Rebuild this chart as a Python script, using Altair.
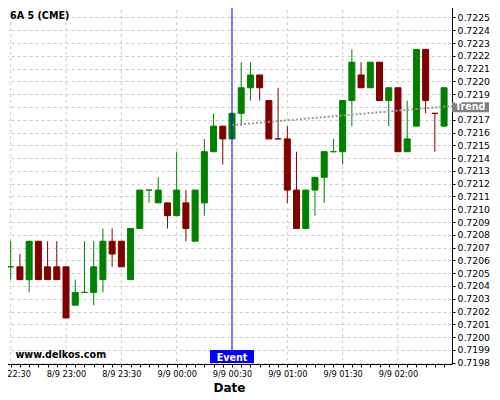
import altair as alt
import pandas as pd

# minutes after 8/9 22:30, one candle every 5 minutes
minutes = [0, 5, 10, 15, 20, 25, 30, 35, 40, 45, 50, 55, 60, 65, 70, 75, 80, 85, 90, 95,
           100, 105, 110, 115, 120, 125, 130, 135, 140, 145, 150, 155, 160, 165, 170, 175,
           180, 185, 190, 195, 200, 205, 210, 215, 220, 225, 230, 235]
opens = [0.72055, 0.72055, 0.72045, 0.72075, 0.72055, 0.72055, 0.72055, 0.72025, 0.72035, 0.72035,
         0.72045, 0.72075, 0.72075, 0.72045, 0.72085, 0.72115, 0.72105, 0.72105, 0.72095, 0.72105,
         0.72075, 0.72105, 0.72145, 0.72165, 0.72155, 0.72175, 0.72195, 0.72205, 0.72185, 0.72155,
         0.72155, 0.72115, 0.72085, 0.72115, 0.72125, 0.72145, 0.72145, 0.72185, 0.72205, 0.72195,
         0.72215, 0.72185, 0.72195, 0.72145, 0.72165, 0.72225, 0.72175, 0.72165]
highs = [0.72075, 0.72065, 0.72075, 0.72075, 0.72075, 0.72075, 0.72055, 0.72045, 0.72075, 0.72075,
         0.72085, 0.72085, 0.72075, 0.72085, 0.72115, 0.72115, 0.72125, 0.72105, 0.72145, 0.72115,
         0.72115, 0.72155, 0.72175, 0.72165, 0.72175, 0.72215, 0.72215, 0.72205, 0.72185, 0.72195,
         0.72165, 0.72145, 0.72115, 0.72125, 0.72145, 0.72155, 0.72185, 0.72225, 0.72215, 0.72215,
         0.72215, 0.72195, 0.72195, 0.72185, 0.72225, 0.72225, 0.72175, 0.72195]
lows = [0.72045, 0.72045, 0.72035, 0.72045, 0.72045, 0.72045, 0.72015, 0.72025, 0.72035, 0.72025,
        0.72035, 0.72055, 0.72055, 0.72045, 0.72085, 0.72105, 0.72105, 0.72085, 0.72095, 0.72075,
        0.72075, 0.72095, 0.72145, 0.72135, 0.72155, 0.72165, 0.72185, 0.72185, 0.72155, 0.72155,
        0.72105, 0.72085, 0.72085, 0.72095, 0.72105, 0.72145, 0.72135, 0.72165, 0.72195, 0.72195,
        0.72185, 0.72165, 0.72145, 0.72145, 0.72165, 0.72175, 0.72145, 0.72165]
closes = [0.72055, 0.72045, 0.72075, 0.72045, 0.72045, 0.72045, 0.72015, 0.72035, 0.72035, 0.72055,
          0.72075, 0.72065, 0.72055, 0.72085, 0.72115, 0.72115, 0.72115, 0.72095, 0.72115, 0.72085,
          0.72115, 0.72145, 0.72165, 0.72155, 0.72175, 0.72195, 0.72205, 0.72195, 0.72155, 0.72155,
          0.72115, 0.72085, 0.72115, 0.72125, 0.72145, 0.72145, 0.72185, 0.72215, 0.72195, 0.72215,
          0.72185, 0.72195, 0.72145, 0.72155, 0.72225, 0.72185, 0.72175, 0.72195]
# colour of the doji candles (open == close)
doji_up = {0: True, 8: True, 15: True, 29: False, 35: True, 46: False}

tick_minutes = [0, 30, 60, 90, 120, 150, 180, 210]
tick_labels = ["8/9 22:30", "8/9 23:00", "8/9 23:30", "9/9 00:00",
               "9/9 00:30", "9/9 01:00", "9/9 01:30", "9/9 02:00"]
price_ticks = [0.7198, 0.7199, 0.7200, 0.7201, 0.7202, 0.7203, 0.7204, 0.7205, 0.7206, 0.7207,
               0.7208, 0.7209, 0.7210, 0.7211, 0.7212, 0.7213, 0.7214, 0.7215, 0.7216, 0.7217,
               0.7218, 0.7219, 0.7220, 0.7221, 0.7222, 0.7223, 0.7224, 0.7225, 0.7226]
hidden_price_label = 0.7218  # covered by the "Trend" tag

event_minute = [120]
trend_minutes = [120, 239.3]
trend_prices = [0.721658, 0.721808]

UP = "#008000"
DOWN = "#800000"

cols = []
for i in range(len(minutes)):
    if closes[i] > opens[i]:
        up = True
    elif closes[i] < opens[i]:
        up = False
    else:
        up = doji_up[i]
    cols.append(UP if up else DOWN)

df = pd.DataFrame({"t": minutes, "open": opens, "high": highs, "low": lows,
                   "close": closes, "col": cols})
grid_df = pd.DataFrame({"t": tick_minutes})
trend_df = pd.DataFrame({"t": trend_minutes, "p": trend_prices})
event_df = pd.DataFrame({"t": event_minute})

label_expr = ("datum.value % 30 === 0 ? [" + ",".join("'%s'" % s for s in tick_labels)
              + "][datum.value / 30] : ''")
ylabel_expr = ("abs(datum.value - %s) < 0.00001 ? '' : format(datum.value, '.4f')"
               % hidden_price_label)

xscale = alt.Scale(domain=[-2.55, 239.3], nice=False, zero=False, padding=0)
yscale = alt.Scale(domain=[0.71979, 0.722605], nice=False, zero=False, padding=0)

xaxis = alt.Axis(values=minutes, labelExpr=label_expr, grid=False, tickSize=3,
                 tickColor="black", domainColor="black", labelColor="black",
                 labelFont="DejaVu Sans", labelFontSize=8.2,
                 labelPadding=3.5, labelFlush=False, labelOverlap=False, labelBound=False,
                 titleFont="DejaVu Sans", titleFontSize=12, titleFontWeight="bold",
                 titleColor="black", titlePadding=4.5)
yaxis = alt.Axis(orient="right", values=price_ticks, labelExpr=ylabel_expr, grid=True,
                 gridColor="#cccccc", gridDash=[3, 3], tickSize=3, tickColor="black",
                 domainColor="black", labelColor="black", labelFont="DejaVu Sans",
                 labelFontSize=9.3, labelPadding=2, labelOverlap=False, labelBound=False,
                 labelFlush=False)


def X(field="t"):
    return alt.X(field + ":Q", scale=xscale, axis=xaxis, title="Date")


def Y(field):
    return alt.Y(field + ":Q", scale=yscale, axis=yaxis, title=None)


vgrid = alt.Chart(grid_df).mark_rule(color="#cccccc", strokeDash=[3, 3], strokeWidth=1).encode(
    x=X())

wicks = alt.Chart(df).mark_rule(strokeWidth=1).encode(
    x=X(), y=Y("low"), y2="high:Q", color=alt.Color("col:N", scale=None))

bodies = alt.Chart(df).mark_bar(width=6, strokeWidth=1).encode(
    x=X(), y=Y("open"), y2="close:Q",
    fill=alt.Fill("col:N", scale=None), stroke=alt.Stroke("col:N", scale=None))

trend = alt.Chart(trend_df).mark_line(color="#999999", strokeWidth=2, strokeDash=[2, 2]).encode(
    x=X(), y=Y("p"))

event_rule = alt.Chart(event_df).mark_rule(color="#0000ff", strokeWidth=1).encode(
    x=X(), y=alt.value(0), y2=alt.value(346))

event_box = alt.Chart(event_df).mark_bar(width=44, color="#0000ff").encode(
    x=X(), y=alt.value(346), y2=alt.value(359))

event_text = alt.Chart(event_df).mark_text(
    text="Event", color="white", font="DejaVu Sans", fontSize=9.6, fontWeight="bold",
    baseline="alphabetic").encode(x=X(), y=alt.value(356.5))

trend_box = alt.Chart(event_df).mark_rect(color="#808080").encode(
    x=alt.value(446), x2=alt.value(483), y=alt.value(98.3), y2=alt.value(108.3))

trend_text = alt.Chart(event_df).mark_text(
    text="Trend", color="white", font="DejaVu Sans", fontSize=9.6, fontWeight="bold",
    align="left", baseline="alphabetic").encode(x=alt.value(449), y=alt.value(106))

title_text = alt.Chart(event_df).mark_text(
    text="6A 5 (CME)", color="black", font="DejaVu Sans", fontSize=9.6, fontWeight="bold",
    align="left", baseline="alphabetic").encode(x=alt.value(4), y=alt.value(15))

site_text = alt.Chart(event_df).mark_text(
    text="www.delkos.com", color="black", font="DejaVu Sans", fontSize=9.6, fontWeight="bold",
    align="left", baseline="alphabetic").encode(x=alt.value(9.5), y=alt.value(353.5))

chart = alt.layer(
    vgrid, wicks, bodies, trend, event_rule, event_box, event_text,
    trend_box, trend_text, title_text, site_text
).properties(
    width=446, height=360,
    autosize=alt.AutoSizeParams(type="none"),
    padding={"left": -2, "top": -4, "right": 40, "bottom": 32},
    background="white"
).configure_view(stroke=None)

chart.save("out.html", embed_options={"renderer": "svg", "actions": False})
